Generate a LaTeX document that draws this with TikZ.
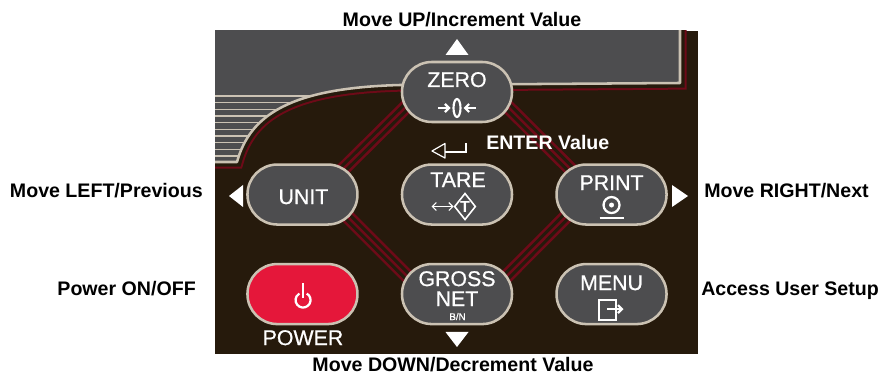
\documentclass[tikz,border=0pt]{standalone}
\usepackage{fontspec}
\setmainfont{Liberation Sans}
\newfontfamily\keyfont{Liberation Sans}[FakeBold=0.7]
\usetikzlibrary{shapes.geometric, arrows.meta, positioning, calc, backgrounds}
\definecolor{panelbrown}{HTML}{261A0C}
\definecolor{screengray}{HTML}{4D4D4F}
\definecolor{rimbeige}{HTML}{CBC2B3}
\definecolor{bandred}{HTML}{6E0A18}
\definecolor{powerred}{HTML}{E5173A}

\begin{document}
\begin{tikzpicture}[
    x=0.75pt, y=-0.75pt,
    padkey/.style={rectangle, draw=rimbeige, line width=1.9pt, fill=screengray, rounded corners=22.4pt, minimum width=82.5pt, minimum height=45pt, inner sep=0pt},
    keytext/.style={text=white, font=\keyfont\fontsize{16}{16}\selectfont, inner sep=0pt, anchor=base},
    hint/.style={font=\fontsize{14.7}{14.7}\selectfont\bfseries, inner sep=0pt},
    band/.style={draw=bandred, line width=10.5pt, postaction={draw=panelbrown, line width=6.6pt}, postaction={draw=bandred, line width=1.9pt}},
    icon/.style={draw=white, line width=1.7pt},
    barb/.style={-{Straight Barb[length=3pt, width=6pt]}},
    pointer/.style={fill=white}
]
\useasboundingbox (0,0) rectangle (882,377);

% Keys
\node[padkey] (zero) at (457,92) {};
\node[padkey, below=30pt of zero] (tare) {};
\node[padkey, left=31.5pt of tare] (unit) {};
\node[padkey, right=31.5pt of tare] (print) {};
\node[padkey, below=27.75pt of tare] (gross) {};
\node[padkey, fill=powerred, left=31.5pt of gross] (power) {};
\node[padkey, right=31.5pt of gross] (menu) {};

% Key labels
\node[keytext] (zerolbl) at ($(zero)+(0,-5)$) {ZERO};
\node[keytext] (unitlbl) at ($(unit)+(1,9.5)$) {UNIT};
\node[keytext] (tarelbl) at ($(tare)+(1,-7.5)$) {TARE};
\node[keytext] (printlbl) at ($(print)+(0,-4.5)$) {PRINT};
\node[keytext] (grosslbl) at ($(gross)+(0,-8)$) {GROSS};
\node[keytext] (netlbl) at ($(gross)+(0,12)$) {NET};
\node[keytext, font=\keyfont\fontsize{7.3}{7.3}\selectfont] (bnlbl) at ($(gross)+(0.5,26)$) {B/N};
\node[keytext] (menulbl) at ($(menu)+(0,-4)$) {MENU};
\node[keytext] (powerlbl) at ($(power)+(0.5,51)$) {POWER};

% Key symbols
\node[draw=white, line width=1.6pt, ellipse, minimum width=5.25pt, minimum height=13.5pt, inner sep=0pt] (zerosym) at ($(zero)+(0,16)$) {};
\draw[icon, barb] ($(zerosym)+(-19,0)$) -- ($(zerosym)+(-6.5,0)$);
\draw[icon, barb] ($(zerosym)+(19,0)$) -- ($(zerosym)+(6.5,0)$);
\node[draw=white, line width=1.2pt, diamond, minimum width=16pt, minimum height=20pt, inner sep=0pt] (tarebox) at ($(tare)+(8,12)$) {};
\node[keytext, font=\fontsize{12}{12}\selectfont\bfseries] (tareT) at ($(tarebox)+(0,6)$) {T};
\draw[draw=white, line width=0.8pt, {Straight Barb[length=3pt, width=6pt]}-{Straight Barb[length=3pt, width=6pt]}] ($(tarebox.west)+(-22,0)$) -- (tarebox.west);
\draw[icon] ($(print)+(0,10.5)$) circle (8);
\fill[white] ($(print)+(0,10.5)$) circle (2.5);
\draw[icon] ($(print)+(-12,23.5)$) -- ($(print)+(12,23.5)$);
\draw[icon] ($(menu)+(-12.5,6)$) rectangle ($(menu)+(4.5,26)$);
\draw[icon, barb] ($(menu)+(-4.5,15)$) -- ($(menu)+(12,15)$);
\draw[icon] ($(power)+(0.6,-11)$) -- ($(power)+(0.6,4)$);
\draw[icon] ($(power)+(0.6,6)+(-60:7.5)$) arc[start angle=-60, end angle=240, radius=7.5];

% Enter symbol
\draw[white, line width=0.9pt, line join=round] (445,143.5) -- (432,151) -- (445,158) -- cycle;
\draw[white, line width=0.9pt] (445,152) -- (466,152) -- (466,143);

% Direction pointers
\fill[pointer] (445.5,55) -- (468.5,55) -- (457,39) -- cycle;
\fill[pointer] (445.5,332) -- (468.5,332) -- (457,347) -- cycle;
\fill[pointer] (243,185) -- (243,207) -- (229,196) -- cycle;
\fill[pointer] (672,185) -- (672,207) -- (688,196) -- cycle;

% Hints
\node[hint, anchor=base] (uphint) at (462,27) {Move UP/Increment Value};
\node[hint, anchor=base] (downhint) at (453,372) {Move DOWN/Decrement Value};
\node[hint, anchor=base east] (lefthint) at (203,198) {Move LEFT/Previous};
\node[hint, anchor=base east] (powerhint) at (196,296) {Power ON/OFF};
\node[hint, anchor=base west] (righthint) at (704,198) {Move RIGHT/Next};
\node[hint, anchor=base west] (menuhint) at (701,296) {Access User Setup};
\node[hint, anchor=base west, text=white] (enterhint) at (486,150) {ENTER Value};

% Panel, display and bands
\begin{scope}[on background layer]
\fill[panelbrown] (215,31) rectangle (698,354);
\begin{scope}
  \clip (215,31) rectangle (698,354);
  \draw[bandred, line width=10pt] (210,162) -- (237,162) .. controls (250,115) and (290,88) .. (400,85) -- (680,83) -- (680,26);
  \draw[panelbrown, line width=7pt] (210,162) -- (237,162) .. controls (250,115) and (290,88) .. (400,85) -- (680,83) -- (680,26);
  \fill[screengray] (210,162) -- (237,162) .. controls (250,115) and (290,88) .. (400,85) -- (680,83) -- (680,26) -- (210,26) -- cycle;
  \begin{scope}
    \clip (210,162) -- (237,162) .. controls (250,115) and (290,88) .. (400,85) -- (680,83) -- (680,26) -- (210,26) -- cycle;
    \foreach \i in {0,...,9}
      \draw[rimbeige, line width=1pt] (210,96+6.67*\i) -- (330,96+6.67*\i);
  \end{scope}
  \draw[rimbeige, line width=1.9pt, line join=round] (210,162) -- (237,162) .. controls (250,115) and (290,88) .. (400,85) -- (680,83) -- (680,26);
\end{scope}
\draw[band] ($(unit)+(30,-15)$) -- ($(zero)+(-39,3)$);
\draw[band] ($(print)+(-30.5,-15)$) -- ($(zero)+(39,3)$);
\draw[band] ($(unit)+(39,16)$) -- ($(gross)+(-17,15)$);
\draw[band] ($(print)+(-39.5,16)$) -- ($(gross)+(17,15)$);
\end{scope}

\end{tikzpicture}
\end{document}
